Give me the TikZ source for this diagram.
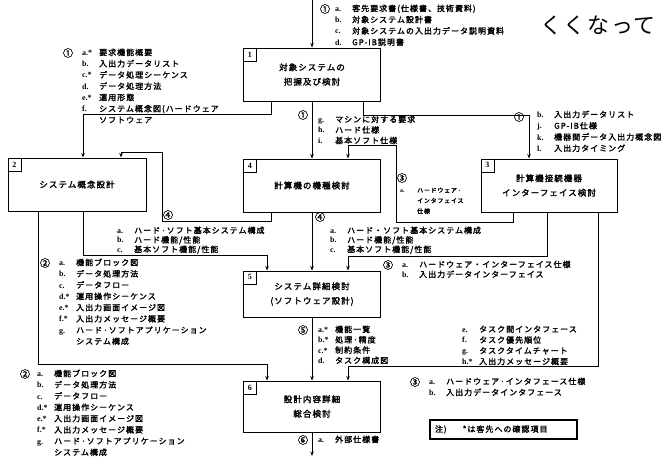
\documentclass[tikz,border=0pt]{standalone}
\usepackage{fontspec}
\setmainfont{Noto Sans CJK JP}[LetterSpace=13,AutoFakeBold=2]
\newfontfamily\hdrfont{Noto Sans CJK JP}[LetterSpace=8]
\newfontfamily\lat{Liberation Serif}
\usetikzlibrary{arrows.meta,calc}
\newlength\lw \setlength\lw{17bp}
\newcommand\li[2]{\makebox[\lw][l]{\lat\bfseries #1}#2}
\newcommand\fs[2]{\fontsize{#1}{#2}\selectfont}
\begin{document}
\begin{tikzpicture}[x=1bp,y=-1bp,
  wire/.style={line width=0.75bp},
  arr/.style={wire,-{Stealth[length=4.5bp,width=3.5bp]}},
  box/.style={draw,line width=0.95bp,minimum width=137bp,minimum height=53bp,inner sep=0pt,align=center,font=\bfseries\fs{8.5}{14.5}},
  num/.style={draw,line width=0.75bp,minimum width=13bp,minimum height=13bp,inner sep=0pt,anchor=north west,font=\lat\bfseries\fs{8}{8}},
  lst/.style={anchor=north west,inner sep=0pt,align=left,font=\bfseries\fs{8}{11.3}},
  cn/.style={inner sep=0pt,font=\bfseries\fs{10}{10}},
]
\useasboundingbox (0,0) rectangle (665,458);

% boxes
\node[box] (b1) at (312,74.5) {対象システムの\\把握及び検討};
\node[box,minimum width=138bp] (b2) at (77,184.5) {システム概念設計};
\node[box] (b4) at (312,185.5) {計算機の機種検討};
\node[box,minimum width=136bp] (b3) at (549,185.5) {計算機接続機器\\インターフェイス検討};
\node[box,minimum height=46bp] (b5) at (312,294) {システム詳細検討\\(ソフトウェア設計)};
\node[box,minimum height=51bp] (b6) at (312,406.5) {設計内容詳細\\総合検討};
\node[num] (n1) at (b1.north west) {1};
\node[num] (n2) at (b2.north west) {2};
\node[num] (n3) at (b3.north west) {3};
\node[num] (n4) at (b4.north west) {4};
\node[num] (n5) at (b5.north west) {5};
\node[num] (n6) at (b6.north west) {6};

% coordinates
\coordinate (in) at (312,0);
\coordinate (out) at (312,456);
\coordinate (k2) at (271,114);
\coordinate (x83) at (83,0);
\coordinate (k4) at (363,115);
\coordinate (x529) at (529,0);
\coordinate (k5a) at (271,221);
\coordinate (k5b) at (162,152);
\coordinate (x121) at (121,0);
\coordinate (k6a) at (513,222);
\coordinate (k6b) at (396,145);
\coordinate (x348) at (348,0);
\coordinate (k7) at (83,255);
\coordinate (x267) at (267,0);
\coordinate (k9) at (547,256);
\coordinate (k10) at (38,364);
\coordinate (k12) at (598,366);

% connectors
\draw[arr] (in) -- (b1.north);
\draw[arr] (b1.south -| k2) -- (k2) -| (b2.north -| x83);
\draw[arr] (b1.south) -- (b4.north);
\draw[arr] (b1.south -| k4) -- (k4) -| (b3.north -| x529);
\draw[arr] (b4.south -| k5a) -- (k5a) -| (k5b) -| (b2.north -| x121);
\draw[arr] (b3.south -| k6a) -- (k6a) -| (k6b) -| (b4.north -| x348);
\draw[arr] (b2.south -| k7) -- (k7) -| (b5.north -| x267);
\draw[arr] (b4.south) -- (b5.north);
\draw[arr] (b3.south -| k9) -- (k9) -| (b5.north -| x348);
\draw[arr] (b2.south -| k10) -- (k10) -| (b6.north -| x267);
\draw[arr] (b5.south) -- (b6.north);
\draw[arr] (b3.south -| k12) -- (k12) -| (b6.north -| x348);
\draw[arr] (b6.south) -- (out);

% labels
\node[cn] (c0) at (325,9) {①};
\node[lst] (l0) at (335,4.5) {\li{a.}{客先要求書(仕様書、技術資料)}\\\li{b.}{対象システム設計書}\\\li{c.}{対象システムの入出力データ説明資料}\\\li{d.}{GP-IB説明書}};

\node[cn] (c1) at (68,53) {①};
\node[lst] (l1) at (82,48.5) {\li{a.*}{要求機能概要}\\\li{b.}{入出力データリスト}\\\li{c.*}{データ処理シーケンス}\\\li{d.}{データ処理方法}\\\li{e.*}{運用形態}\\\li{f.}{システム概念図(ハードウェア}\\\li{}{ソフトウェア}};

\node[cn] (c2) at (303,115) {①};
\node[lst,font=\bfseries\fs{8}{10.6}] (l2) at (318,115.5) {\li{g.}{マシンに対する要求}\\\li{h.}{ハード仕様}\\\li{i.}{基本ソフト仕様}};

\node[cn] (c3) at (519,117) {①};
\node[lst] (l3) at (537,110.5) {\li{b.}{入出力データリスト}\\\li{j.}{GP-IB仕様}\\\li{k.}{機器間データ入出力概念図}\\\li{l.}{入出力タイミング}};

\node[cn] (c4) at (168,215) {④};
\node[lst,font=\bfseries\fs{8}{9.5}] (l4) at (117,226.5) {\li{a.}{ハード·ソフト基本システム構成}\\\li{b.}{ハード機能/性能}\\\li{c.}{基本ソフト機能/性能}};

\node[cn] (c5) at (402,178) {③};
\node[lst,font=\bfseries\fs{6}{10.5}] (l5) at (400,187.5) {\li{a.}{ハードウェア·}\\\li{}{インタフェイス}\\\li{}{仕様}};

\node[cn] (c6) at (320,217) {④};
\node[lst,font=\bfseries\fs{8}{9.5}] (l6) at (330,226.5) {\li{a.}{ハード・ソフト基本システム構成}\\\li{b.}{ハード機能/性能}\\\li{c.}{基本ソフト機能/性能}};

\node[cn] (c7) at (388,265) {③};
\node[lst,font=\bfseries\fs{8}{10}] (l7) at (402,260.5) {\li{a.}{ハードウェア・インターフェイス仕様}\\\li{b.}{入出力データインターフェイス}};

\node[cn] (c8) at (45,263) {②};
\node[lst] (l8) at (59,258.5) {\li{a.}{機能ブロック図}\\\li{b.}{データ処理方法}\\\li{c.}{データフロー}\\\li{d.*}{運用操作シーケンス}\\\li{e.*}{入出力画面イメージ図}\\\li{f.*}{入出力メッセージ概要}\\\li{g.}{ハード·ソフトアプリケーション}\\\li{}{システム構成}};

\node[cn] (c9) at (25,374) {②};
\node[lst] (l9) at (37,369.5) {\li{a.}{機能ブロック図}\\\li{b.}{データ処理方法}\\\li{c.}{データフロー}\\\li{d.*}{運用操作シーケンス}\\\li{e.*}{入出力画面イメージ図}\\\li{f.*}{入出力メッセージ概要}\\\li{g.}{ハード·ソフトアプリケーション}\\\li{}{システム構成}};

\node[cn] (c10) at (303,330) {⑤};
\node[lst,font=\bfseries\fs{8}{10.4}] (l10) at (318,325.5) {\li{a.*}{機能一覧}\\\li{b.*}{処理·精度}\\\li{c.*}{制約条件}\\\li{d.}{タスク構成図}};
\node[lst,font=\bfseries\fs{8}{10.8}] (l11) at (462,325.5) {\li{e.}{タスク間インタフェース}\\\li{f.}{タスク優先順位}\\\li{g.}{タスクタイムチャート}\\\li{h.*}{入出力メッセージ概要}};

\node[cn] (c12) at (415,382) {③};
\node[lst,font=\bfseries\fs{8}{11}] (l12) at (429,377.5) {\li{a.}{ハードウェア·インタフェース仕様}\\\li{b.}{入出力データインタフェース}};

\node[cn] (c13) at (303,440) {⑥};
\node[lst] (l13) at (318,435.5) {\li{a.}{外部仕様書}};

\node[draw,line width=1.3bp,minimum width=147bp,minimum height=19bp,inner sep=0pt,font=\bfseries\fs{8}{9}] (note) at (503.5,429.5) {\makebox[145bp][l]{\hspace{4bp}注)\hspace{16bp}*は客先への確認項目}};

\node[anchor=west,inner sep=0pt,font=\hdrfont\fs{22}{22}] (hdr) at (540,25) {くくなって};
\end{tikzpicture}
\end{document}
